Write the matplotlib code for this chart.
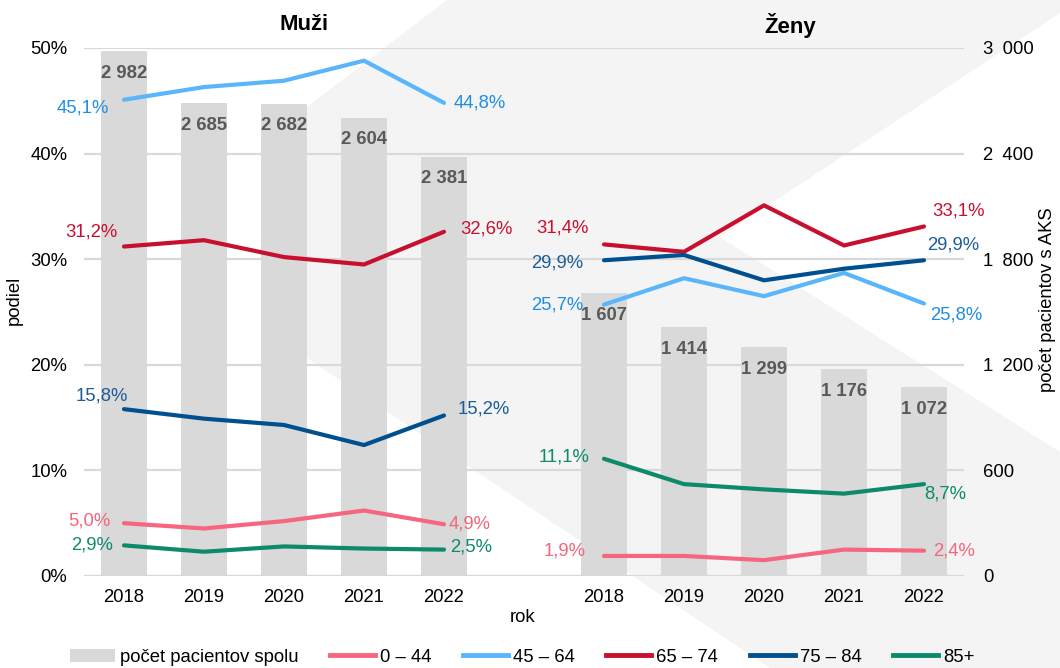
import matplotlib.pyplot as plt
from matplotlib.patches import Polygon, Patch
from matplotlib.lines import Line2D

plt.rcParams['font.family'] = ['Liberation Sans', 'DejaVu Sans']

# data
years = ['2018', '2019', '2020', '2021', '2022']
groups = ['Muži', 'Ženy']
pocet_muzi = [2982, 2685, 2682, 2604, 2381]
pocet_zeny = [1607, 1414, 1299, 1176, 1072]

vek_skupiny = ['0 – 44', '45 – 64', '65 – 74', '75 – 84', '85+']
muzi_0_44 = [5.0, 4.5, 5.2, 6.2, 4.9]
muzi_45_64 = [45.1, 46.3, 46.9, 48.8, 44.8]
muzi_65_74 = [31.2, 31.8, 30.2, 29.5, 32.6]
muzi_75_84 = [15.8, 14.9, 14.3, 12.4, 15.2]
muzi_85 = [2.9, 2.3, 2.8, 2.6, 2.5]
zeny_0_44 = [1.9, 1.9, 1.5, 2.5, 2.4]
zeny_45_64 = [25.7, 28.2, 26.5, 28.7, 25.8]
zeny_65_74 = [31.4, 30.7, 35.1, 31.3, 33.1]
zeny_75_84 = [29.9, 30.4, 28.0, 29.1, 29.9]
zeny_85 = [11.1, 8.7, 8.2, 7.8, 8.7]

muzi = [muzi_0_44, muzi_45_64, muzi_65_74, muzi_75_84, muzi_85]
zeny = [zeny_0_44, zeny_45_64, zeny_65_74, zeny_75_84, zeny_85]

farby = ['#f7667f', '#5ab6fb', '#c8102e', '#00508f', '#0c8a6b']
farby_text = ['#f4667c', '#1f8fe5', '#c8102e', '#1c5c9b', '#0c8a6b']

# posuny popisov v pixeloch (prvy bod, posledny bod)
posun_muzi = [((-14, 2), (5, 0)), ((-15, -8), (10, 0)), ((-7, 15), (16, 3)),
              ((4, 13), (14, 6)), ((-11, 0), (6, 3))]
posun_zeny = [((-18, 5), (9, 0)), ((-21, 0), (6, -11)), ((-15, 16), (8, 15)),
              ((-21, -3), (3, 15)), ((-15, 2), (0, -10))]

W, H = 1060, 668
fig = plt.figure(figsize=(W / 100, H / 100), dpi=100)

# pozadie - sivy pruh
pts = [(447, 0), (307, 107), (307, 358), (770, 668), (1060, 668), (1060, 452),
       (720, 237), (1060, 13), (1060, 0)]
fig.add_artist(Polygon([(x / W, 1 - y / H) for x, y in pts], closed=True,
                       transform=fig.transFigure, facecolor='#f4f4f4',
                       edgecolor='none', zorder=-1))

ax = fig.add_axes([84 / W, 1 - 576 / H, 880 / W, 528 / H])
ax.patch.set_visible(False)
ax2 = ax.twinx()
ax2.patch.set_visible(False)

x_m = list(range(5))
x_z = list(range(6, 11))
fs = 13.3

bars_m = ax.bar(x_m, pocet_muzi, width=0.57, color='#d9d9d9', zorder=2)
bars_z = ax.bar(x_z, pocet_zeny, width=0.57, color='#d9d9d9', zorder=2)
for bars in (bars_m, bars_z):
    for b in bars:
        v = b.get_height()
        ax.annotate(f'{int(v):,}'.replace(',', ' '), xy=(b.get_x() + b.get_width() / 2, v),
                    xytext=(0, -22), textcoords='offset pixels', ha='center', va='center',
                    fontsize=fs, fontweight='bold', color='#595959', zorder=3)

ax.set_ylim(0, 3000)
ax.set_yticks([0, 600, 1200, 1800, 2400, 3000])
ax.set_yticklabels([f'{t:,}'.replace(',', '\u2002') for t in [0, 600, 1200, 1800, 2400, 3000]])
ax.set_xlim(-0.5, 10.5)
ax.set_xticks(x_m + [5] + x_z)
ax.set_xticklabels(years + [''] + years)
ax.tick_params(axis='both', length=0, labelsize=fs)
ax.tick_params(axis='y', pad=13.5)
ax.tick_params(axis='x', pad=9)
ax.grid(axis='y', color='#d9d9d9', lw=1.6, zorder=0)
ax.set_axisbelow(True)
for s in ax.spines.values():
    s.set_visible(False)

ax2.set_ylim(0, 50)
ax2.set_yticks([0, 10, 20, 30, 40, 50])
ax2.set_yticklabels([f'{t}%' for t in [0, 10, 20, 30, 40, 50]])
ax2.tick_params(axis='y', length=0, labelsize=fs, pad=12)
for s in ax2.spines.values():
    s.set_visible(False)

# pocty vpravo, podiely vlavo
ax.yaxis.tick_right()
ax2.yaxis.tick_left()

for xs, serie, posuny in ((x_m, muzi, posun_muzi), (x_z, zeny, posun_zeny)):
    for i, vals in enumerate(serie):
        ax2.plot(xs, vals, color=farby[i], lw=3, solid_capstyle='round', zorder=4)
        (dx0, dy0), (dx1, dy1) = posuny[i]
        ax2.annotate(f'{vals[0]:.1f}%'.replace('.', ','), xy=(xs[0], vals[0]),
                     xytext=(dx0, dy0), textcoords='offset pixels', ha='right', va='center',
                     fontsize=fs, color=farby_text[i])
        ax2.annotate(f'{vals[-1]:.1f}%'.replace('.', ','), xy=(xs[-1], vals[-1]),
                     xytext=(dx1, dy1), textcoords='offset pixels', ha='left', va='center',
                     fontsize=fs, color=farby_text[i])

fig.text(304 / W, 1 - 25 / H, groups[0], ha='center', va='center', fontsize=16, fontweight='bold')
fig.text(790 / W, 1 - 25 / H, groups[1], ha='center', va='center', fontsize=16, fontweight='bold')
fig.text(14 / W, 1 - 300 / H, 'podiel', rotation=90, ha='center', va='center', fontsize=fs)
fig.text(523 / W, 1 - 618 / H, 'rok', ha='center', va='center', fontsize=fs)
fig.text(1048 / W, 1 - 300 / H, 'počet pacientov s AKS', rotation=90, ha='center', va='center', fontsize=fs)

handles = [Patch(facecolor='#d9d9d9', edgecolor='none')]
handles += [Line2D([], [], color=c, lw=3.5) for c in farby]
labels = ['počet pacientov spolu'] + vek_skupiny
fig.legend(handles, labels, loc='center', bbox_to_anchor=(0.4925, 1 - 657 / H), ncol=6,
           frameon=False, fontsize=fs, handlelength=2.44, handletextpad=0.27,
           columnspacing=1.7, borderaxespad=0)

fig.savefig('out.png', dpi=100)
